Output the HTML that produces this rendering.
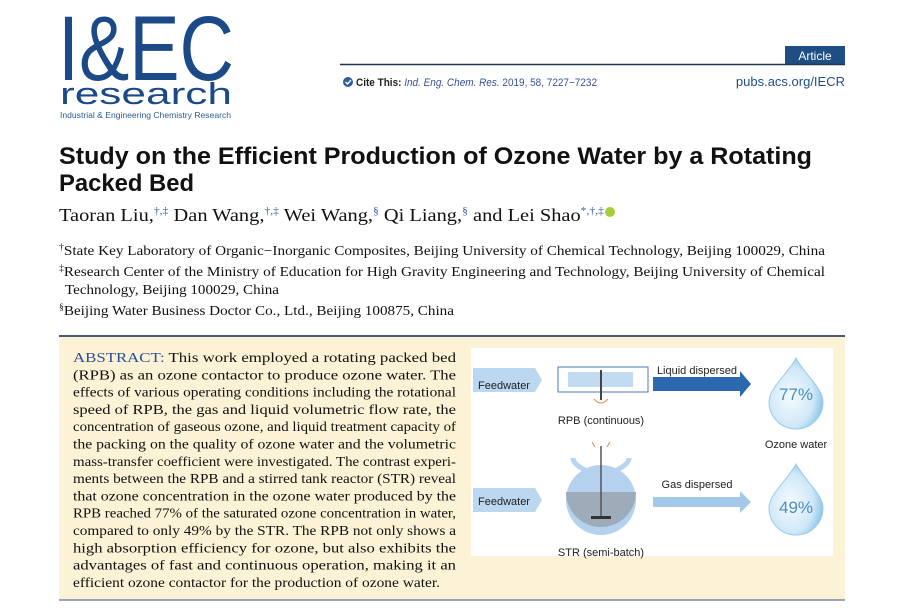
<!DOCTYPE html>
<html><head><meta charset="utf-8"><style>
html,body{margin:0;padding:0;background:#fff;width:900px;height:612px;overflow:hidden}
svg{display:block}
</style></head><body>
<svg width="900" height="612" viewBox="0 0 900 612" xmlns="http://www.w3.org/2000/svg">
<defs>
<radialGradient id="drop" cx="0.4" cy="0.55" r="0.6">
<stop offset="0" stop-color="#f4fbff"/><stop offset="0.7" stop-color="#cfe8f7"/><stop offset="1" stop-color="#8fc7ea"/>
</radialGradient>
</defs>
<rect width="900" height="612" fill="#fff"/>
<!-- logo -->
<g fill="#1b4a86" font-family="Liberation Sans, sans-serif">
<text x="58" y="80" font-size="92" textLength="176" lengthAdjust="spacingAndGlyphs">I&amp;EC</text>
<text x="60" y="104" font-size="31" textLength="172" lengthAdjust="spacingAndGlyphs">research</text>
<text x="60" y="118" font-size="8.5" textLength="171" lengthAdjust="spacingAndGlyphs" fill="#2d5a92">Industrial &amp; Engineering Chemistry Research</text>
</g>
<!-- article header -->
<rect x="785" y="46" width="60" height="18" fill="#1f4e85"/>
<text x="815" y="60" font-size="12" fill="#fff" text-anchor="middle" font-family="Liberation Sans, sans-serif">Article</text>
<line x1="340" y1="64.5" x2="845" y2="64.5" stroke="#1f3550" stroke-width="1.5"/>
<circle cx="348" cy="82" r="5" fill="#2b5d9c"/>
<path d="M345.5 82 l2 2 l3.5 -4" stroke="#fff" stroke-width="1.4" fill="none"/>
<text x="356" y="86" font-size="11" font-family="Liberation Sans, sans-serif" textLength="241" lengthAdjust="spacingAndGlyphs"><tspan font-weight="bold" fill="#222">Cite This: </tspan><tspan fill="#3a4f9a" font-style="italic">Ind. Eng. Chem. Res. </tspan><tspan fill="#3a4f9a">2019, 58, 7227−7232</tspan></text>
<text x="845" y="86" font-size="13" fill="#1f4e85" text-anchor="end" font-family="Liberation Sans, sans-serif">pubs.acs.org/IECR</text>
<!-- title -->
<g font-family="Liberation Sans, sans-serif" font-weight="bold" fill="#111" font-size="24">
<text x="59" y="164" textLength="753" lengthAdjust="spacingAndGlyphs">Study on the Efficient Production of Ozone Water by a Rotating</text>
<text x="59" y="191" textLength="135" lengthAdjust="spacingAndGlyphs">Packed Bed</text>
</g>
<text x="59" y="221" font-family="Liberation Serif, serif" font-size="17.5" fill="#111" textLength="545" lengthAdjust="spacingAndGlyphs">Taoran Liu,<tspan dy="-7" font-size="10" fill="#3a5fa8">†,‡</tspan><tspan dy="7"> Dan Wang,</tspan><tspan dy="-7" font-size="10" fill="#3a5fa8">†,‡</tspan><tspan dy="7"> Wei Wang,</tspan><tspan dy="-7" font-size="10" fill="#3a5fa8">§</tspan><tspan dy="7"> Qi Liang,</tspan><tspan dy="-7" font-size="10" fill="#3a5fa8">§</tspan><tspan dy="7"> and Lei Shao</tspan><tspan dy="-7" font-size="10" fill="#3a5fa8">*,†,‡</tspan></text>
<circle cx="610" cy="212" r="5" fill="#a6ce39"/>
<g font-family="Liberation Serif, serif" font-size="14" fill="#111">
<text x="59" y="255" textLength="766" lengthAdjust="spacingAndGlyphs"><tspan font-size="9" dy="-5">†</tspan><tspan dy="5">State Key Laboratory of Organic−Inorganic Composites, Beijing University of Chemical Technology, Beijing 100029, China</tspan></text>
<text x="59" y="276" textLength="766" lengthAdjust="spacingAndGlyphs"><tspan font-size="9" dy="-5">‡</tspan><tspan dy="5">Research Center of the Ministry of Education for High Gravity Engineering and Technology, Beijing University of Chemical</tspan></text>
<text x="65" y="294" textLength="214" lengthAdjust="spacingAndGlyphs">Technology, Beijing 100029, China</text>
<text x="59" y="315" textLength="395" lengthAdjust="spacingAndGlyphs"><tspan font-size="9" dy="-5">§</tspan><tspan dy="5">Beijing Water Business Doctor Co., Ltd., Beijing 100875, China</tspan></text>
</g>
<!-- abstract -->
<rect x="59" y="336" width="786" height="264" fill="#fcf2d5"/>
<line x1="59" y1="336" x2="845" y2="336" stroke="#4a5a78" stroke-width="2"/>
<line x1="59" y1="600" x2="845" y2="600" stroke="#7a88a8" stroke-width="1.5"/>
<g font-family="Liberation Serif, serif" font-size="14" fill="#111">
<text x="73" y="362" textLength="383" lengthAdjust="spacingAndGlyphs"><tspan fill="#2a4f96">ABSTRACT:</tspan> This work employed a rotating packed bed</text>
<text x="73" y="379.3" textLength="383" lengthAdjust="spacingAndGlyphs">(RPB) as an ozone contactor to produce ozone water. The</text>
<text x="73" y="396.6" textLength="383" lengthAdjust="spacingAndGlyphs">effects of various operating conditions including the rotational</text>
<text x="73" y="413.9" textLength="383" lengthAdjust="spacingAndGlyphs">speed of RPB, the gas and liquid volumetric flow rate, the</text>
<text x="73" y="431.2" textLength="383" lengthAdjust="spacingAndGlyphs">concentration of gaseous ozone, and liquid treatment capacity of</text>
<text x="73" y="448.5" textLength="383" lengthAdjust="spacingAndGlyphs">the packing on the quality of ozone water and the volumetric</text>
<text x="73" y="465.8" textLength="383" lengthAdjust="spacingAndGlyphs">mass-transfer coefficient were investigated. The contrast experi-</text>
<text x="73" y="483.1" textLength="383" lengthAdjust="spacingAndGlyphs">ments between the RPB and a stirred tank reactor (STR) reveal</text>
<text x="73" y="500.4" textLength="383" lengthAdjust="spacingAndGlyphs">that ozone concentration in the ozone water produced by the</text>
<text x="73" y="517.7" textLength="383" lengthAdjust="spacingAndGlyphs">RPB reached 77% of the saturated ozone concentration in water,</text>
<text x="73" y="535" textLength="383" lengthAdjust="spacingAndGlyphs">compared to only 49% by the STR. The RPB not only shows a</text>
<text x="73" y="552.3" textLength="383" lengthAdjust="spacingAndGlyphs">high absorption efficiency for ozone, but also exhibits the</text>
<text x="73" y="569.6" textLength="383" lengthAdjust="spacingAndGlyphs">advantages of fast and continuous operation, making it an</text>
<text x="73" y="586.9" textLength="367" lengthAdjust="spacingAndGlyphs">efficient ozone contactor for the production of ozone water.</text>
</g>
<!-- figure -->
<rect x="471" y="348" width="362" height="208" fill="#fff"/>
<g font-family="Liberation Sans, sans-serif" font-size="11" fill="#222">
<path d="M473 368 H535 L542 380 L535 392 H473 Z" fill="#bcd8f0"/>
<text x="478" y="389">Feedwater</text>
<rect x="558" y="367" width="90" height="25" fill="#fff" stroke="#4a78b0" stroke-width="1"/>
<rect x="568" y="372" width="65" height="15" fill="#c3dbf1"/>
<line x1="601" y1="370" x2="601" y2="400" stroke="#444" stroke-width="2"/>
<path d="M594 399 q7 8 14 0" stroke="#e08a50" fill="none" stroke-width="1"/>
<text x="601" y="424" text-anchor="middle">RPB (continuous)</text>
<path d="M653 377 H740 V371 L751 384 L740 397 V391 H653 Z" fill="#2c68ad"/>
<text x="697" y="374" text-anchor="middle">Liquid dispersed</text>
<path d="M796 358 C805 375 823 388 823 402 A27 27 0 0 1 769 402 C769 388 787 375 796 358 Z" fill="url(#drop)" stroke="#9ccbe9"/>
<text x="796" y="400" text-anchor="middle" font-size="17" fill="#4d8cc4">77%</text>
<text x="796" y="448" text-anchor="middle">Ozone water</text>
<path d="M473 488 H535 L542 500 L535 512 H473 Z" fill="#bcd8f0"/>
<text x="478" y="505">Feedwater</text>
<path d="M585 470 q-12 -6 -12 -12" stroke="#b9d5ee" stroke-width="5" fill="none"/>
<path d="M617 470 q12 -6 12 -12" stroke="#b9d5ee" stroke-width="5" fill="none"/>
<circle cx="601" cy="500" r="35" fill="#b4d2ee"/>
<path d="M566 492 H636 A35 35 0 0 1 566 492 Z" fill="#9eabb9"/>
<line x1="601" y1="446" x2="601" y2="518" stroke="#555" stroke-width="1.5"/>
<rect x="591" y="516" width="20" height="3" fill="#333"/>
<path d="M595 447 l-3 -5 M607 447 l3 -5" stroke="#e08a50"/>
<text x="601" y="556" text-anchor="middle">STR (semi-batch)</text>
<path d="M653 497 H740 V491 L751 502 L740 513 V507 H653 Z" fill="#a3c8ea"/>
<text x="697" y="488" text-anchor="middle">Gas dispersed</text>
<path d="M796 464 C805 481 823 494 823 508 A27 27 0 0 1 769 508 C769 494 787 481 796 464 Z" fill="url(#drop)" stroke="#9ccbe9"/>
<text x="796" y="513" text-anchor="middle" font-size="17" fill="#4d8cc4">49%</text>
</g>
</svg>
</body></html>
